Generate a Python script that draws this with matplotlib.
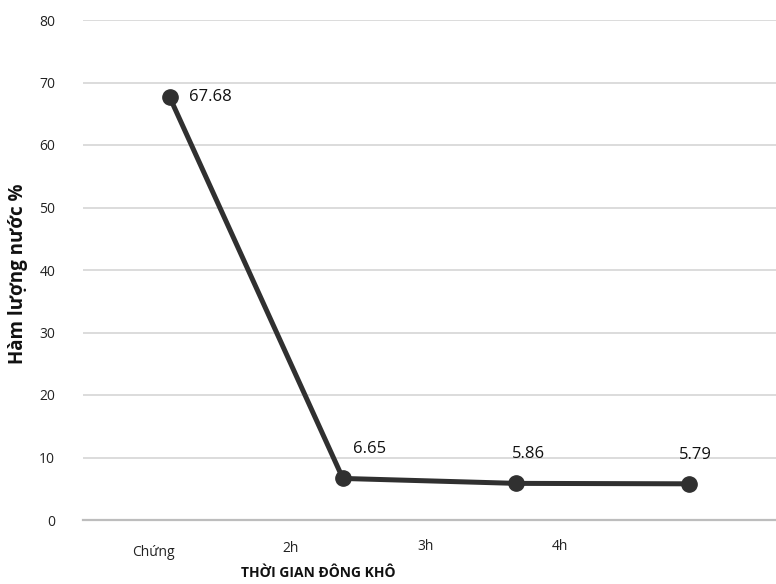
import matplotlib
matplotlib.use("Agg")
import matplotlib.pyplot as plt
from matplotlib.transforms import offset_copy

categories = ["Chứng", "2h", "3h", "4h"]
values = [67.68, 6.65, 5.86, 5.79]
value_labels = ["67.68", "6.65", "5.86", "5.79"]
yticks = [0, 10, 20, 30, 40, 50, 60, 70, 80]

plt.rcParams['font.family'] = ['Open Sans', 'DejaVu Sans']

fig = plt.figure(figsize=(7.76, 5.84), dpi=100)
ax = fig.add_axes([83/776, 64/584, 693/776, 500/584])

x = list(range(len(categories)))
ax.plot(x, values, color="#303030", lw=3.6, marker="o", ms=11, zorder=3,
        solid_capstyle="round")

ax.set_xlim(-0.5, len(categories) - 0.5)
ax.set_ylim(0, 80)
ax.set_yticks(yticks)
ax.set_yticklabels([str(t) for t in yticks], fontsize=10, color="#222222")
ax.tick_params(axis="y", length=0, pad=20)
ax.grid(axis="y", color="#d9d9d9", lw=1.3)
ax.set_axisbelow(True)
for s in ["top", "right", "left"]:
    ax.spines[s].set_visible(False)
ax.spines["bottom"].set_color("#bdbdbd")
ax.spines["bottom"].set_linewidth(1.6)
ax.set_xticks([])

# category labels (offset as in the reference)
label_frac = [0.101, 0.299, 0.494, 0.688]
label_y = [552, 549, 547, 546]
for c, fx, py in zip(categories, label_frac, label_y):
    fig.text(83/776 + fx * 693/776, 1 - py/584, c, ha="center", va="center",
             fontsize=10, color="#222222")

# data labels
offsets = [(14, 0), (19, 21), (9, 21), (4, 21)]
for i, (v, lab) in enumerate(zip(values, value_labels)):
    dx, dy = offsets[i]
    tr = offset_copy(ax.transData, fig=fig, x=dx, y=dy, units="points")
    ax.text(x[i], v, lab, transform=tr, ha="left" if i == 0 else "center",
            va="center", fontsize=12, fontweight="medium", color="#111111")

fig.text(318/776, 1 - 573/584, "THỜI GIAN ĐÔNG KHÔ", ha="center", va="center",
         fontsize=10, fontweight="bold", color="#111111")
fig.text(18/776, 1 - 274/584, "Hàm lượng nước %", ha="center", va="center",
         rotation=90, fontsize=13.5, fontweight="bold", color="#111111")

fig.savefig("out.png", dpi=100)
